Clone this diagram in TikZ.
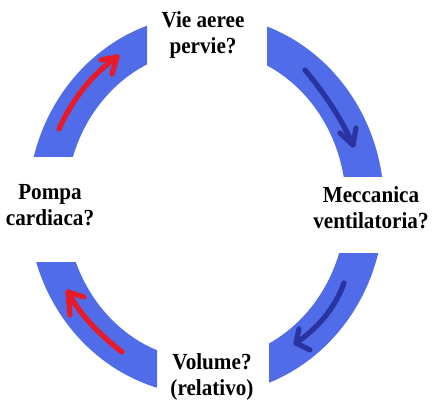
\documentclass[tikz,border=0pt]{standalone}
\usepackage{fontspec}
\newfontfamily\labfont[FakeStretch=0.92]{Liberation Serif}
\definecolor{ringblue}{RGB}{80,108,232}
\definecolor{arrred}{RGB}{232,26,40}
\definecolor{arrblue}{RGB}{42,52,160}
\tikzset{
  lab/.style={font=\labfont\bfseries\fontsize{23}{26}\selectfont, align=center, inner sep=0pt, text=black},
  redarr/.style={draw=arrred, line width=5.2pt, line cap=round, line join=round},
  bluearr/.style={draw=arrblue, line width=5.2pt, line cap=round, line join=round},
  ringpart/.style={fill=ringblue, even odd rule}
}
\begin{document}
\begin{tikzpicture}[x=1pt,y=-1pt]
\useasboundingbox (0,0) rectangle (432,403);
\coordinate (c) at (206,205);
% ring quarters
\begin{scope}
\clip (0,0) rectangle (147,157);
\path[ringpart] (c) ellipse [x radius=178pt, y radius=190pt] (c) ellipse [x radius=140pt, y radius=155pt];
\end{scope}
\begin{scope}
\clip (267,0) rectangle (432,177);
\path[ringpart] (c) ellipse [x radius=178pt, y radius=190pt] (c) ellipse [x radius=140pt, y radius=155pt];
\end{scope}
\begin{scope}
\clip (0,263) rectangle (157,403);
\path[ringpart] (c) ellipse [x radius=178pt, y radius=190pt] (c) ellipse [x radius=140pt, y radius=155pt];
\end{scope}
\begin{scope}
\clip (269,254) rectangle (432,403);
\path[ringpart] (c) ellipse [x radius=178pt, y radius=190pt] (c) ellipse [x radius=140pt, y radius=155pt];
\end{scope}
% arrows
\path[redarr] (59,129) .. controls (72,100) and (92,74) .. (117,57);
\path[redarr] (101,60) -- (117,57) -- (112,74);
\path[bluearr] (305,70) .. controls (320,88) and (340,115) .. (353,145);
\path[bluearr] (340,133) -- (353,145) -- (356,128);
\path[bluearr] (344,283) .. controls (335,308) and (318,328) .. (296,343);
\path[bluearr] (299,329) -- (296,343) -- (310,350);
\path[redarr] (122,352) .. controls (100,335) and (80,315) .. (68,292);
\path[redarr] (70,315) -- (68,292) -- (84,297);
% labels
\node[lab] (top) at (203,35) {Vie aeree\\pervie?};
\node[lab] (right) at (371,208) {Meccanica\\ventilatoria?};
\node[lab] (bottom) at (212,377) {Volume?\\(relativo)};
\node[lab] (left) at (50,205) {Pompa\\cardiaca?};
\end{tikzpicture}
\end{document}
